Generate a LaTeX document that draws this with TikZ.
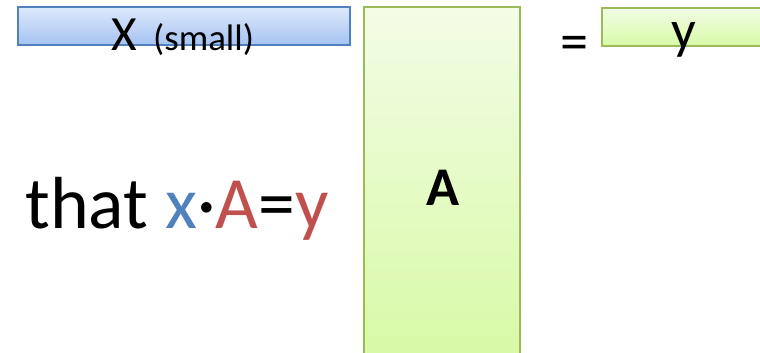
\documentclass[tikz,border=0pt]{standalone}
\usepackage{fontspec}
\setmainfont{Carlito}
\usepackage{tikz}
\definecolor{bluetop}{RGB}{222,233,251}
\definecolor{bluebot}{RGB}{165,195,242}
\definecolor{blueline}{RGB}{79,129,189}
\definecolor{greentop}{RGB}{243,252,230}
\definecolor{greenbot}{RGB}{215,250,165}
\definecolor{greenline}{RGB}{155,187,89}
\definecolor{redtext}{RGB}{192,80,77}

\begin{document}
\begin{tikzpicture}[x=0.02cm, y=-0.02cm,
  bluebox/.style={draw=blueline, line width=1.1pt, top color=bluetop, bottom color=bluebot, inner sep=0pt},
  greenbox/.style={draw=greenline, line width=1.1pt, top color=greentop, bottom color=greenbot, inner sep=0pt},
  bigtext/.style={font=\fontsize{28}{32}\selectfont, anchor=base, inner sep=0pt}
]
  \clip (0,0) rectangle (760,352);
  \useasboundingbox (0,0) rectangle (760,352);

  % vectors and matrix
  \node[bluebox, minimum width=332*0.02cm, minimum height=38*0.02cm] (xvec) at (184,26) {};
  \node[greenbox, minimum width=156*0.02cm, minimum height=355*0.02cm] (amat) at (442,184.5) {};
  \node[greenbox, minimum width=180*0.02cm, minimum height=38*0.02cm] (yvec) at (692,27) {};

  % labels
  \node[bigtext] (xlabel) at (183,50) {X\hspace{9pt}\fontsize{21}{24}\selectfont(small)};
  \node[bigtext, font=\fontsize{31}{36}\selectfont\bfseries] (alabel) at (443,205) {A};
  \node[bigtext, font=\fontsize{31}{36}\selectfont] (ylabel) at (684,48) {y};
  \node[bigtext, font=\fontsize{32}{36}\selectfont] (eqsign) at (574,60) {=};

  % equation
  \node[bigtext, font=\fontsize{42}{50}\selectfont] (eqn) at (177,228)
    {that \textcolor{blueline}{x}·\textcolor{redtext}{A}=\textcolor{redtext}{y}};
\end{tikzpicture}
\end{document}
